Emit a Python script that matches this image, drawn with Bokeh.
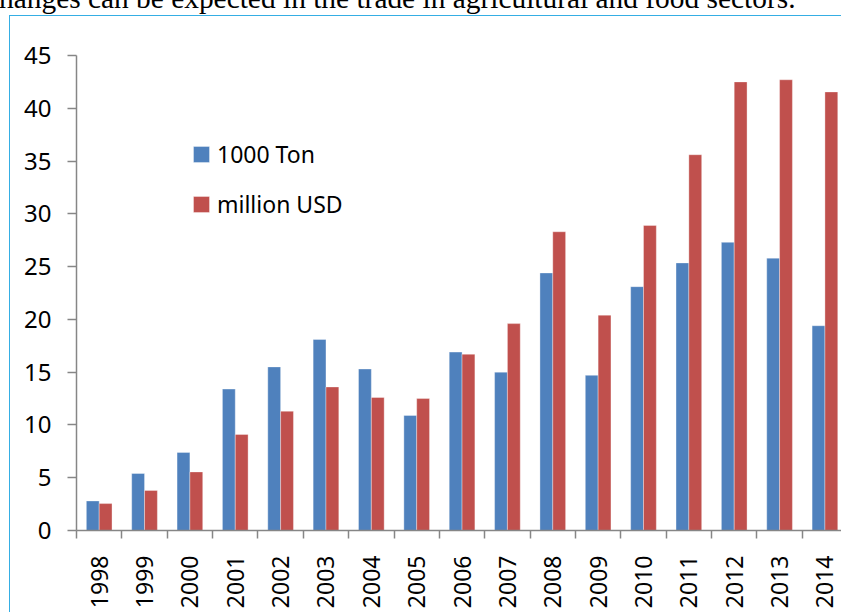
import math
import numpy as np
from bokeh.plotting import figure
from bokeh.models import Range1d, FixedTicker, Legend, LegendItem, ColumnDataSource, Div
from bokeh.transform import dodge
from bokeh.layouts import column
from bokeh.embed import file_html
from bokeh.resources import INLINE

years = ["1998", "1999", "2000", "2001", "2002", "2003", "2004", "2005", "2006",
         "2007", "2008", "2009", "2010", "2011", "2012", "2013", "2014"]
tons = [2.8, 5.4, 7.4, 13.4, 15.5, 18.1, 15.3, 10.9, 16.9, 15.0, 24.4, 14.7, 23.1, 25.35, 27.3, 25.8, 19.4]
usd = [2.55, 3.8, 5.55, 9.1, 11.3, 13.6, 12.6, 12.5, 16.7, 19.6, 28.3, 20.4, 28.9, 35.6, 42.5, 42.7, 41.55]
y_ticks = [0, 5, 10, 15, 20, 25, 30, 35, 40, 45]
caption = "hanges can be expected in the trade in agricultural and food sectors."

centers = [i + 0.5 for i in range(len(years))]
bounds = list(range(len(years) + 1))
source = ColumnDataSource(dict(x=centers, tons=tons, usd=usd))

FONT = "Noto Sans"
AX = "#868686"
BLUE = "#4F81BD"
RED = "#C0504D"
BORDER = "#35AEE4"

cat_px = 45.33
p = figure(width=832, height=597,
           x_range=Range1d(0, 765.5 / cat_px), y_range=Range1d(0, 45),
           output_backend="svg", toolbar_location=None,
           min_border_left=66, min_border_right=0, min_border_top=39, min_border_bottom=83)
p.margin = (0, 0, 0, 9)
p.styles = {"border-left": f"1px solid {BORDER}", "border-top": f"1px solid {BORDER}"}
p.outline_line_color = None
p.xgrid.visible = False
p.ygrid.visible = False

bw = 0.283
r1 = p.vbar(x=dodge("x", -bw / 2, range=p.x_range), top="tons", width=bw, source=source,
            fill_color=BLUE, line_color="white", line_alpha=0.35, line_width=1)
r2 = p.vbar(x=dodge("x", bw / 2, range=p.x_range), top="usd", width=bw, source=source,
            fill_color=RED, line_color="white", line_alpha=0.35, line_width=1)

# y axis
ya = p.yaxis[0]
ya.ticker = FixedTicker(ticks=y_ticks, minor_ticks=[])
ya.axis_line_color = AX
ya.axis_line_width = 1.5
ya.major_tick_line_color = AX
ya.major_tick_line_width = 1.5
ya.major_tick_in = 0
ya.major_tick_out = 9
ya.major_label_standoff = 16
ya.major_label_text_font = FONT
ya.major_label_text_font_size = "24px"
ya.major_label_text_color = "#000000"

# x axis
xa = p.xaxis[0]
xa.ticker = FixedTicker(ticks=centers, minor_ticks=bounds)
xa.major_label_overrides = {c: y for c, y in zip(centers, years)}
xa.major_label_orientation = math.pi / 2
xa.axis_line_color = AX
xa.axis_line_width = 1.5
xa.major_tick_line_color = None
xa.major_tick_in = 0
xa.major_tick_out = 8
xa.minor_tick_line_color = AX
xa.minor_tick_line_width = 1.5
xa.minor_tick_in = 0
xa.minor_tick_out = 8
xa.major_label_standoff = 17
xa.major_label_text_font = FONT
xa.major_label_text_font_size = "23px"
xa.major_label_text_color = "#000000"

legend = Legend(items=[LegendItem(label="1000 Ton", renderers=[r1]),
                       LegendItem(label="million USD", renderers=[r2])],
                location=(115, 310), border_line_color=None, background_fill_alpha=0,
                padding=0, margin=0, spacing=18, glyph_width=20, glyph_height=20,
                label_standoff=6, label_text_font=FONT, label_text_font_size="23px",
                label_text_color="#000000")
p.add_layout(legend)

div = Div(text=('<div style="position:relative; left:-1px; top:-16px; '
                "font-family:'Liberation Serif'; font-size:29.4px; line-height:29px; "
                'white-space:nowrap; color:#000;">' + caption + '</div>'),
          width=842, height=15, margin=0, styles={"overflow": "visible"})

layout = column(div, p, spacing=0, margin=0)
open("out.html", "w").write(file_html(layout, INLINE))
